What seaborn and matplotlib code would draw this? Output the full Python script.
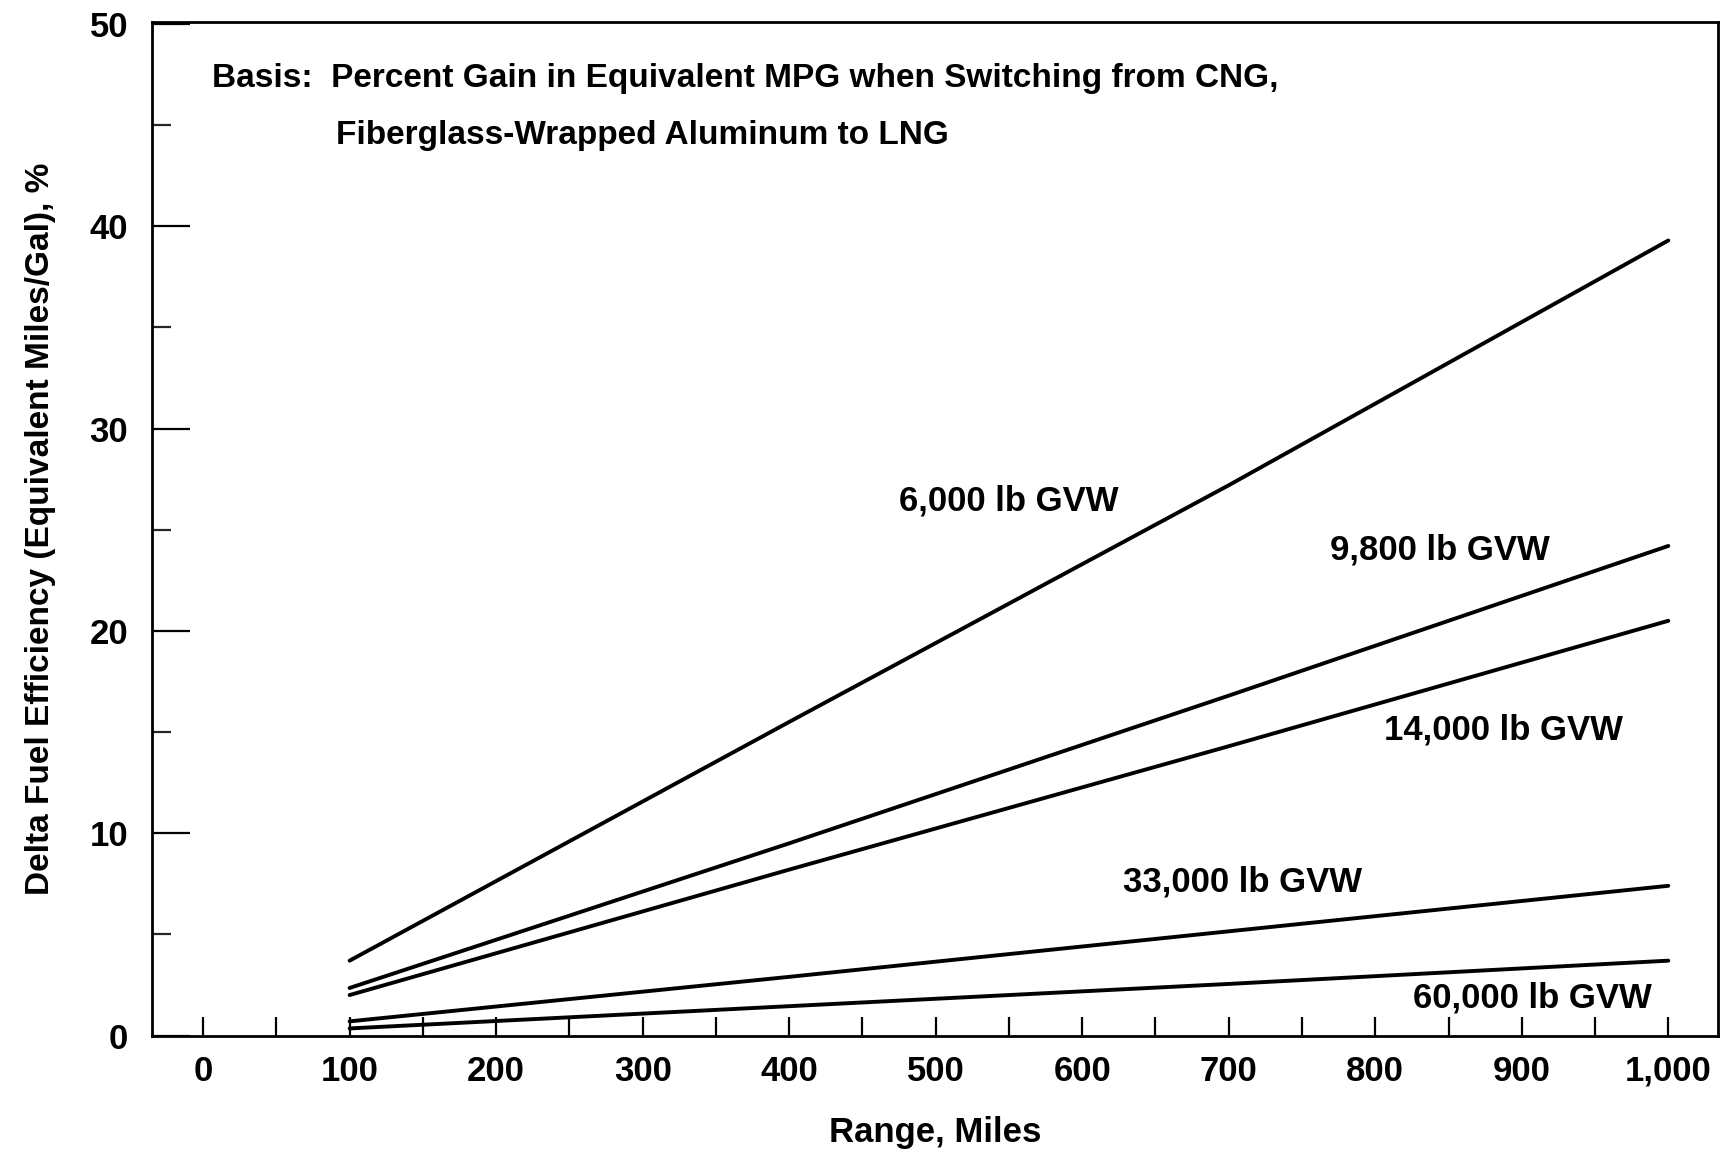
import numpy as np
import pandas as pd
import matplotlib
matplotlib.use("Agg")
import matplotlib.pyplot as plt
import seaborn as sns
from matplotlib.ticker import MultipleLocator, FuncFormatter

# Range, miles
range_miles = [100, 400, 700, 1000]

# Delta fuel efficiency (%) per vehicle weight
gvw_6000 = [3.7, 15.5, 27.2, 39.3]
gvw_9800 = [2.35, 9.5, 16.8, 24.2]
gvw_14000 = [2.0, 8.2, 14.3, 20.5]
gvw_33000 = [0.7, 2.9, 5.15, 7.4]
gvw_60000 = [0.35, 1.45, 2.55, 3.7]

series_names = ["6,000 lb GVW", "9,800 lb GVW", "14,000 lb GVW",
                "33,000 lb GVW", "60,000 lb GVW"]
series_values = [gvw_6000, gvw_9800, gvw_14000, gvw_33000, gvw_60000]

basis_line1 = "Basis:  Percent Gain in Equivalent MPG when Switching from CNG,"
basis_line2 = "Fiberglass-Wrapped Aluminum to LNG"

sns.set_theme(style="white")
plt.rcParams["font.family"] = ["Liberation Sans Narrow", "Liberation Sans", "DejaVu Sans"]
plt.rcParams["font.weight"] = "bold"
plt.rcParams["text.color"] = "black"
plt.rcParams["axes.labelcolor"] = "black"

FS = 25

df = pd.concat(
    [pd.DataFrame({"range": range_miles, "delta": vals, "gvw": name})
     for name, vals in zip(series_names, series_values)],
    ignore_index=True,
)

fig = plt.figure(figsize=(17.25, 11.57), dpi=100)
ax = fig.add_axes([0.088, 0.105, 0.908, 0.876])

sns.lineplot(data=df, x="range", y="delta", hue="gvw",
             palette=["black"] * len(series_names), lw=2.8,
             legend=False, ax=ax)

ax.set_xlim(-35, 1034)
ax.set_ylim(0, 50.1)

ax.xaxis.set_major_locator(MultipleLocator(100))
ax.xaxis.set_minor_locator(MultipleLocator(50))
ax.yaxis.set_major_locator(MultipleLocator(10))
ax.yaxis.set_minor_locator(MultipleLocator(5))
ax.xaxis.set_major_formatter(FuncFormatter(lambda v, p: f"{int(v):,}"))

ax.tick_params(axis="x", which="both", direction="in", length=14, width=1.6,
               labelsize=FS, pad=14, bottom=True, colors="black")
ax.tick_params(axis="y", which="major", direction="in", length=27, width=1.6,
               labelsize=FS, pad=17, left=True, colors="black")
ax.tick_params(axis="y", which="minor", direction="in", length=14, width=1.6,
               left=True)

for sp in ax.spines.values():
    sp.set_color("black")
    sp.set_linewidth(2.0)

ax.set_xlabel("Range, Miles", fontsize=FS, labelpad=20, fontweight="bold")
ax.set_ylabel("Delta Fuel Efficiency (Equivalent Miles/Gal), %", fontsize=24,
              labelpad=24, fontweight="bold")

ax.text(6, 47.3, basis_line1, fontsize=24, va="center", ha="left")
ax.text(91, 44.5, basis_line2, fontsize=24, va="center", ha="left")

label_pos = [(475, 26.4), (769, 24.0), (806, 15.1), (628, 7.6), (826, 1.85)]
for name, (lx, ly) in zip(series_names, label_pos):
    ax.text(lx, ly, name, fontsize=FS, va="center", ha="left")

fig.savefig("out.png", dpi=100, facecolor="white")
